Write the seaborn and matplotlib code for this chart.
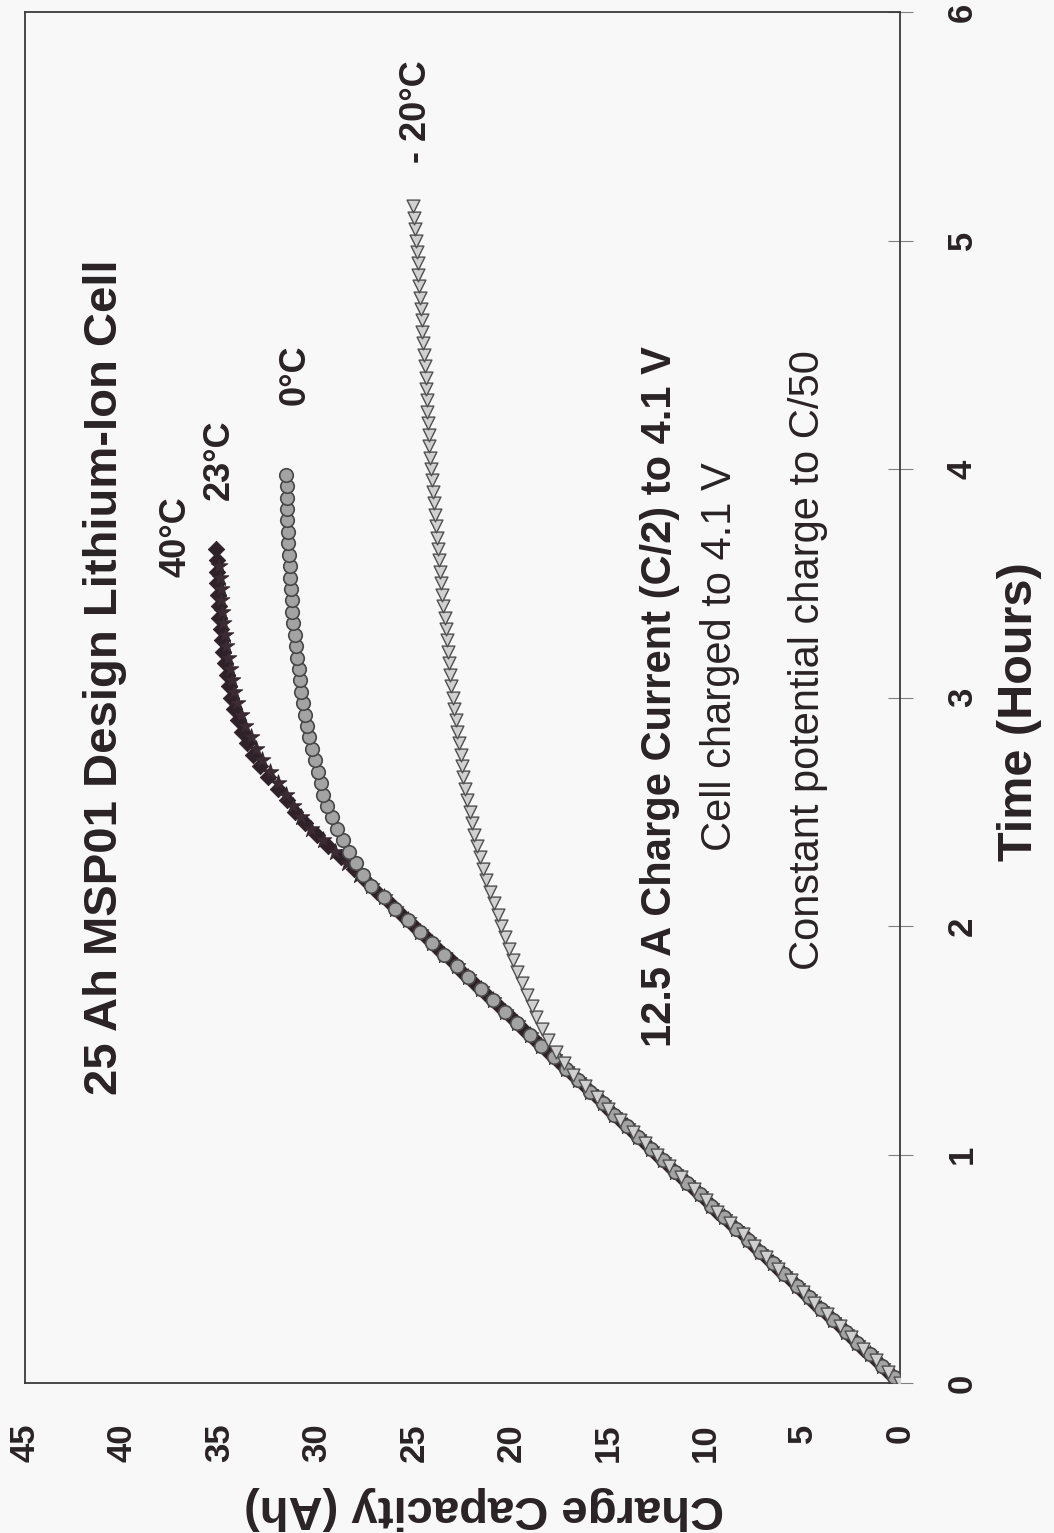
import numpy as np
import pandas as pd
import matplotlib
matplotlib.use("Agg")
import matplotlib.pyplot as plt
import seaborn as sns

# ---------------- data ----------------
step_h = 0.05  # sampling interval of the logged points (hours)

# constant-current section sampled at t = 0, 0.05, ... 2.45 h
linear_cap = [0, 0.6, 1.25, 1.9, 2.5, 3.1, 3.75, 4.4, 5.0, 5.6, 6.25, 6.9, 7.5, 8.1,
              8.75, 9.4, 10.0, 10.6, 11.25, 11.9, 12.5, 13.1, 13.75, 14.4, 15.0, 15.6,
              16.2, 16.8, 17.5, 18.1, 18.75, 19.4, 20.0, 20.6, 21.25, 21.9, 22.5, 23.1,
              23.75, 24.4, 25.0, 25.6, 26.25, 26.9, 27.5, 28.1, 28.75, 29.4, 30.0, 30.6]
# constant-current section sampled at t = 0.025, 0.075, ... 2.425 h
linear_cap_half = [0.3, 0.95, 1.55, 2.2, 2.8, 3.45, 4.05, 4.7, 5.3, 5.95,
                   6.55, 7.2, 7.8, 8.45, 9.05, 9.7, 10.3, 10.95, 11.55, 12.2,
                   12.8, 13.45, 14.05, 14.7, 15.3, 15.95, 16.55, 17.2, 17.8, 18.45,
                   19.05, 19.7, 20.3, 20.95, 21.55, 22.2, 22.8, 23.45, 24.05, 24.7,
                   25.3, 25.95, 26.55, 27.2, 27.8, 28.45, 29.05, 29.7, 30.3]

tail_m20 = [17.3, 17.7, 18.1, 18.4, 18.7, 18.95, 19.2, 19.45, 19.7, 19.9, 20.1, 20.3,
            20.5, 20.7, 20.9, 21.1, 21.3, 21.45, 21.6, 21.75, 21.9, 22.0,
            22.1, 22.25, 22.35, 22.45, 22.55, 22.6, 22.7, 22.8, 22.85, 22.95,
            23.0, 23.1, 23.15, 23.2, 23.25, 23.3, 23.35, 23.4, 23.5, 23.55,
            23.6, 23.65, 23.7, 23.75, 23.8, 23.85, 23.9, 23.95, 24.0, 24.05,
            24.1, 24.15, 24.2, 24.2, 24.25, 24.3, 24.35, 24.4, 24.4, 24.45,
            24.5, 24.55, 24.6, 24.6, 24.65, 24.7, 24.75, 24.8, 24.8, 24.85,
            24.9, 24.95, 25.0, 25.05]
tail_0 = [27.6, 28.0, 28.35, 28.65, 28.95, 29.2, 29.45, 29.65, 29.8, 29.95,
          30.1, 30.25, 30.4, 30.5, 30.6, 30.7, 30.8, 30.85, 30.9, 31.0,
          31.05, 31.1, 31.2, 31.25, 31.25, 31.3, 31.35, 31.35, 31.4, 31.45,
          31.45, 31.5, 31.5, 31.55, 31.55, 31.6]
tail_23 = [30.8, 31.2, 31.6, 32.0, 32.4, 32.8, 33.1, 33.4, 33.7, 33.9, 34.1,
           34.25, 34.35, 34.45, 34.55, 34.65, 34.7, 34.8, 34.85, 34.9, 34.9,
           34.95, 35.0]
tail_40 = [31.1, 31.55, 32.0, 32.5, 32.9, 33.3, 33.6, 33.85, 34.05, 34.25, 34.4,
           34.5, 34.6, 34.7, 34.8, 34.85, 34.9, 35.0, 35.0, 35.05, 35.1, 35.1,
           35.15, 35.2]

series_names = ["40°C", "23°C", "0°C", "- 20°C"]
series_cap = {
    "40°C": linear_cap + tail_40,
    "23°C": linear_cap_half + tail_23,
    "0°C": linear_cap_half[:44] + tail_0,
    "- 20°C": linear_cap[:28] + tail_m20,
}
series_t0 = {"40°C": 0.0, "23°C": 0.025, "0°C": 0.025, "- 20°C": 0.0}

x_ticks = [0, 5, 10, 15, 20, 25, 30, 35, 40, 45]
y_ticks = [0, 1, 2, 3, 4, 5, 6]

rows = []
for name in series_names:
    caps = series_cap[name]
    for i, c in enumerate(caps):
        rows.append({"series": name, "time": round(series_t0[name] + i * step_h, 4),
                     "cap": c})
df = pd.DataFrame(rows)

# ---------------- style ----------------
sns.set_theme(style="white")
plt.rcParams["font.family"] = ["Liberation Sans", "DejaVu Sans"]
bg = "#f8f8f8"
txt = "#2a2326"

styles = {
    "40°C": dict(marker="D", s=70, color="#2e2228", edgecolor="#2e2228", linewidth=0.6),
    "23°C": dict(marker="*", s=160, color="#3a2c32", edgecolor="#2e2228", linewidth=0.6),
    "0°C": dict(marker="o", s=95, color="#a3a3a3", edgecolor="#474747", linewidth=1.2),
    "- 20°C": dict(marker="v", s=85, color="#d0d0d0", edgecolor="#505050", linewidth=1.0),
}

W, H = 1054, 1533
fig = plt.figure(figsize=(W / 100, H / 100), dpi=100, facecolor=bg)
L, R, T, B = 25, 900, 12, 1383
ax = fig.add_axes([L / W, 1 - B / H, (R - L) / W, (B - T) / H])
ax.set_facecolor(bg)

for name in series_names:
    sub = df[df["series"] == name]
    sns.scatterplot(data=sub, x="cap", y="time", ax=ax, legend=False, zorder=3,
                    **styles[name])

ax.set_xlim(45, 0)
ax.set_ylim(0, 6)
ax.set_xticks(x_ticks)
ax.set_yticks(y_ticks)
ax.yaxis.tick_right()
for sp in ax.spines.values():
    sp.set_color("#3a3a3a")
    sp.set_linewidth(1.3)

ax.tick_params(axis="both", direction="inout", length=18, width=0.8,
               color="#808080", labelsize=25, labelcolor=txt)
ax.tick_params(axis="x", pad=20)
ax.tick_params(axis="y", pad=24)
for lab in ax.get_xticklabels():
    lab.set_rotation(90)
    lab.set_fontweight("bold")
    lab.set_va("top")
    lab.set_ha("center")
for lab in ax.get_yticklabels():
    lab.set_rotation(90)
    lab.set_fontweight("bold")
    lab.set_va("center")
    lab.set_ha("left")

ax.set_xlabel("Charge Capacity (Ah)", fontsize=34, fontweight="bold", color=txt,
              rotation=180)
ax.xaxis.set_label_coords((484 - L) / (R - L), (B - 1508) / (B - T))
ax.xaxis.label.set_va("center")
ax.yaxis.set_label_position("right")
ax.set_ylabel("Time (Hours)", fontsize=35, fontweight="bold", color=txt, rotation=90)
ax.yaxis.set_label_coords((1020 - L) / (R - L), (B - 712) / (B - T))
ax.yaxis.label.set_va("center")
ax.yaxis.label.set_ha("center")

def px(x, y):
    return (900 - x) / 19.444, (1383 - y) / 228.5

annots = [
    ("25 Ah MSP01 Design Lithium-Ion Cell", 105, 677, 34, "bold"),
    ("40°C", 176, 537, 26, "bold"),
    ("23°C", 219, 460, 26, "bold"),
    ("0°C", 295, 375, 26, "bold"),
    ("- 20°C", 417, 112, 26, "bold"),
    ("12.5 A Charge Current (C/2) to 4.1 V", 660, 697, 30, "bold"),
    ("Cell charged to 4.1 V", 720, 657, 30, "normal"),
    ("Constant potential charge to C/50", 808, 660, 30, "normal"),
]
for s, x, y, fs, fw in annots:
    cx, cy = px(x, y)
    ax.text(cx, cy, s, rotation=90, ha="center", va="center", fontsize=fs,
            fontweight=fw, color=txt, zorder=5)

fig.savefig("out.png", dpi=100, facecolor=bg)
